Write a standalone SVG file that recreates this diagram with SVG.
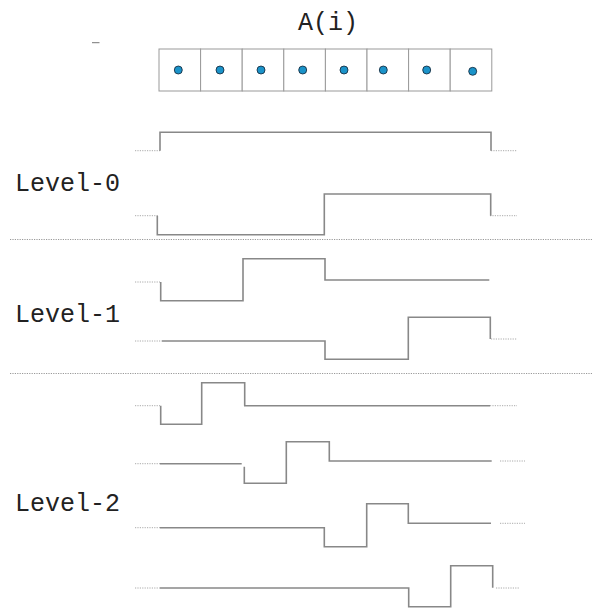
<svg xmlns="http://www.w3.org/2000/svg" width="594" height="609" viewBox="0 0 594 609">
<style>
.lbl{font-family:"Liberation Mono","Courier New",monospace;font-size:25px;fill:#222}
.cell{fill:#fff;stroke:#999;stroke-width:1}
.dot{fill:#1b93c9;stroke:#123;stroke-width:0.8}
.w{fill:none;stroke:#888;stroke-width:1.6}
.d{fill:none;stroke:#aaa;stroke-width:1;stroke-dasharray:1.2 1.2}
.sep{fill:none;stroke:#999;stroke-width:1;stroke-dasharray:1.2 1.2}
</style>
<rect width="594" height="609" fill="#fff"/>
<g id="title"><text class="lbl" x="328" y="30" text-anchor="middle">A(i)</text></g>
<g id="mark"><line x1="92" y1="42.7" x2="99.5" y2="42.7" stroke="#777" stroke-width="1"/></g>
<g id="array">
<rect class="cell" x="159" y="49" width="41.6" height="42"/>
<rect class="cell" x="200.6" y="49" width="41.6" height="42"/>
<rect class="cell" x="242.2" y="49" width="41.6" height="42"/>
<rect class="cell" x="283.8" y="49" width="41.6" height="42"/>
<rect class="cell" x="325.4" y="49" width="41.6" height="42"/>
<rect class="cell" x="367" y="49" width="41.6" height="42"/>
<rect class="cell" x="408.6" y="49" width="41.6" height="42"/>
<rect class="cell" x="450.2" y="49" width="41.6" height="42"/>
<circle class="dot" cx="178.3" cy="70" r="4"/>
<circle class="dot" cx="220" cy="70" r="4"/>
<circle class="dot" cx="261" cy="70" r="4"/>
<circle class="dot" cx="302.7" cy="70" r="4"/>
<circle class="dot" cx="344" cy="70" r="4"/>
<circle class="dot" cx="383.3" cy="70" r="4"/>
<circle class="dot" cx="426.7" cy="70" r="4"/>
<circle class="dot" cx="472.7" cy="71.3" r="4"/>
</g>
<g id="label-0"><text class="lbl" x="15" y="191">Level-0</text></g>
<g id="label-1"><text class="lbl" x="15" y="322">Level-1</text></g>
<g id="label-2"><text class="lbl" x="15" y="511">Level-2</text></g>
<g id="connectors">
<line class="sep" x1="10" y1="239.5" x2="592" y2="239.5"/>
<line class="sep" x1="10" y1="373.5" x2="592" y2="373.5"/>
</g>
<g id="wave-0a">
<path class="d" d="M135,150.7H160M491,150.7H517"/>
<path class="w" d="M160,150.7V132.3H491V150.7"/>
</g>
<g id="wave-0b">
<path class="d" d="M135,215.7H158M490,215.7H517"/>
<path class="w" d="M157.3,215.7V234.7H324.3V194H490.7V215.7"/>
</g>
<g id="wave-1a">
<path class="d" d="M135,282H160"/>
<path class="w" d="M160.7,282V300.7H243V258.7H325V280H489.3"/>
</g>
<g id="wave-1b">
<path class="d" d="M135,341H162M491,339H517"/>
<path class="w" d="M162,341H325V359.3H408.3V317.3H490.3V339"/>
</g>
<g id="wave-2a">
<path class="d" d="M135,405.7H160M490,405.7H517"/>
<path class="w" d="M160.7,405.7V424.3H201.7V382.7H244.7V405.7M244,405.7H490"/>
</g>
<g id="wave-2b">
<path class="d" d="M135,463.7H160M500,461H525"/>
<path class="w" d="M160,463.7H241.7M244.3,466.7V483.3H286.3V441.7H329.3V461H491.7"/>
</g>
<g id="wave-2c">
<path class="d" d="M135,527.7H160M500,523.3H525"/>
<path class="w" d="M160,527.7H324.3V546.7H366.7V503.7H408.3V523.3H491"/>
</g>
<g id="wave-2d">
<path class="d" d="M135,588H160M496,588H520"/>
<path class="w" d="M160,588H408.7V606.7H450.7V565.7H492.7V587.7"/>
</g>
</svg>
